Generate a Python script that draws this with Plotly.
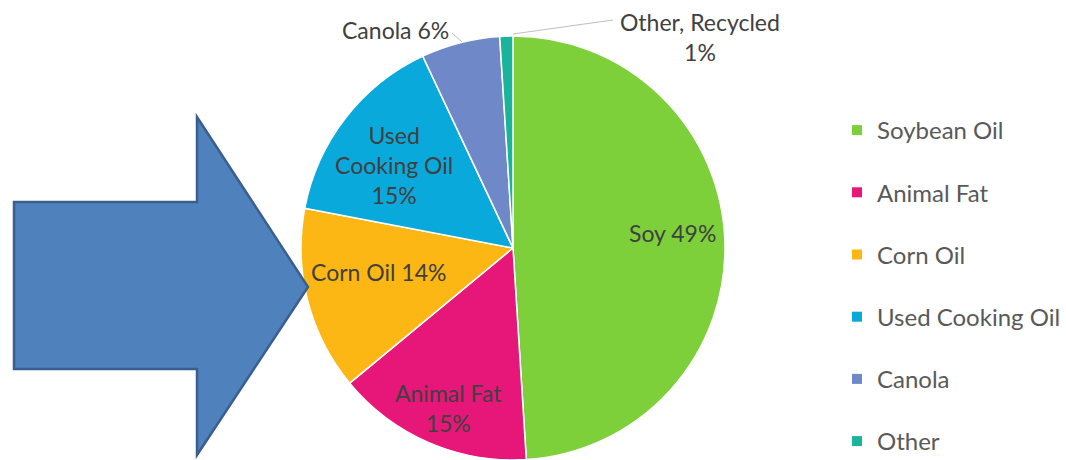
import plotly.graph_objects as go

# ---- data ----
categories = ["Soybean Oil", "Animal Fat", "Corn Oil", "Used Cooking Oil", "Canola", "Other"]
slice_labels = ["Soy", "Animal Fat", "Corn Oil", "Used<br>Cooking Oil", "Canola", "Other, Recycled"]
label_seps = [" ", "<br>", " ", "<br>", " ", "<br>"]
shares = [49, 15, 14, 15, 6, 1]
colors = ["#7ED03B", "#E7177A", "#FDB714", "#0AA9DC", "#6E88C8", "#1AB39B"]

W, H = 1066, 460
cx, cy, r = 513, 248, 212

fig = go.Figure()

fig.add_trace(go.Pie(
    labels=categories,
    values=shares,
    sort=False,
    direction="clockwise",
    rotation=0,
    marker=dict(colors=colors, line=dict(color="white", width=1.5)),
    textinfo="none",
    hoverinfo="label+percent",
    showlegend=False,
    domain=dict(x=[(cx - r) / W, (cx + r) / W], y=[(H - cy - r) / H, (H - cy + r) / H]),
))

# legend entries (one group each so spacing can be set)
for name, col in zip(categories, colors):
    fig.add_trace(go.Scatter(
        x=[None], y=[None], mode="markers", name=name,
        legendgroup=name,
        marker=dict(symbol="square", size=10, color=col),
    ))

# slice label positions (pixels)
label_pos = [(672, 233), (448, 408), (378, 272), (394, 165), (395, 30), (700, 37)]
for lab, sep, val, (px, py) in zip(slice_labels, label_seps, shares, label_pos):
    fig.add_annotation(
        x=px, y=py, xref="x", yref="y", text=f"{lab}{sep}{val}%",
        showarrow=False, font=dict(family="Lato", size=23, color="#404040"),
        align="center",
    )

# leader lines
fig.add_shape(type="line", xref="x", yref="y", x0=452, y0=33, x1=462, y1=42,
              line=dict(color="#BFBFBF", width=1))
fig.add_shape(type="line", xref="x", yref="y", x0=513, y0=34, x1=613, y1=20,
              line=dict(color="#BFBFBF", width=1))

# block arrow
arrow = "M 14 202 L 197 202 L 197 117 L 308 287 L 197 455 L 197 369 L 14 369 Z"
fig.add_shape(type="path", xref="x", yref="y", path=arrow,
              fillcolor="#4F81BD", line=dict(color="#3A5F8F", width=2.5), layer="above")

fig.update_layout(
    width=W, height=H,
    margin=dict(l=0, r=0, t=0, b=0, autoexpand=False),
    paper_bgcolor="white", plot_bgcolor="white",
    xaxis=dict(range=[0, W], visible=False, fixedrange=True),
    yaxis=dict(range=[H, 0], visible=False, fixedrange=True),
    legend=dict(x=837 / W, y=1 - 108 / H, xanchor="left", yanchor="top",
                font=dict(family="Lato", size=24, color="#595959"),
                tracegroupgap=28, bgcolor="rgba(0,0,0,0)"),
    showlegend=True,
)

fig.write_html("out.html", config={"displayModeBar": False},
               post_script="document.body.style.margin='0';")
